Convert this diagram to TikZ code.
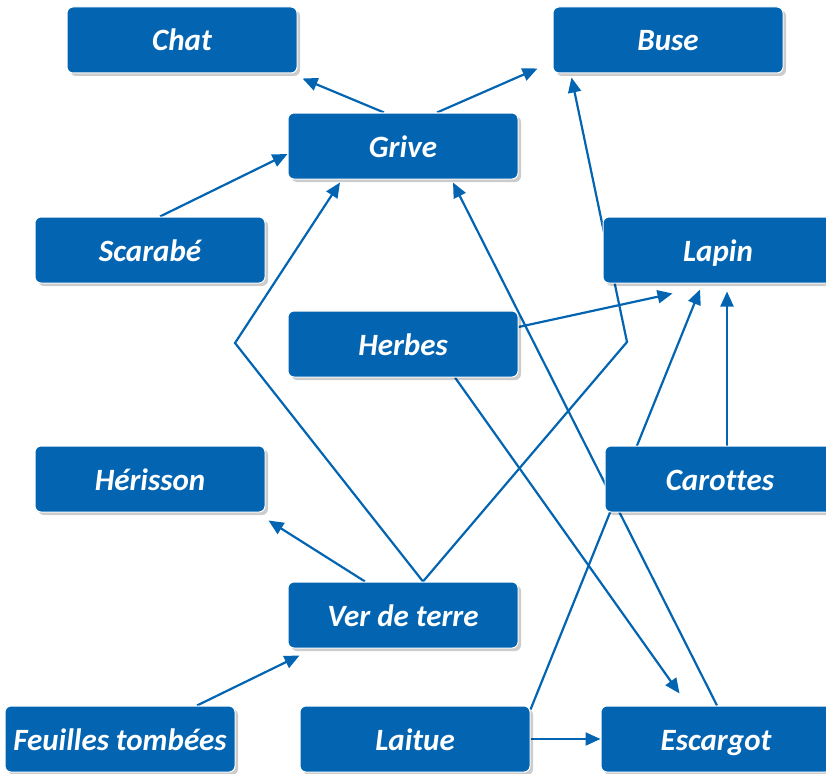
\documentclass[tikz,border=0pt]{standalone}
\usepackage{fontspec}
\setmainfont[Ligatures=NoCommon]{Carlito}
\usetikzlibrary{arrows.meta,shadows,calc}
\definecolor{boxblue}{RGB}{3,101,178}
\pgfdeclarelayer{bg}
\pgfsetlayers{bg,main}
\begin{document}
\begin{tikzpicture}[x=1pt,y=-1pt,
  box/.style={rectangle, rounded corners=6pt, fill=boxblue, draw=white, line width=1pt,
    minimum width=230pt, minimum height=66pt, text=white, inner sep=0pt,
    text height=22pt, text depth=0pt,
    font=\fontsize{31}{36}\selectfont\bfseries\itshape,
    drop shadow={shadow xshift=3pt, shadow yshift=-3pt, opacity=0.2, fill=black}},
  link/.style={draw=boxblue, line width=2.2pt, -{Triangle[length=15pt,width=13pt]}}]
\useasboundingbox (0,0) rectangle (826,773);
\clip (0,0) rectangle (826,773);
% nodes
\node[box] (chat) at (182,40) {Chat};
\node[box] (buse) at (668,40) {Buse};
\node[box] (grive) at (403,146) {Grive};
\node[box] (scarabe) at (150,250) {Scarabé};
\node[box] (lapin) at (718,250) {Lapin};
\node[box] (herbes) at (403,344) {Herbes};
\node[box] (herisson) at (150,479) {Hérisson};
\node[box] (carottes) at (720,479) {Carottes};
\node[box] (ver) at (403,615) {Ver de terre};
\node[box] (feuilles) at (120,739) {Feuilles tombées};
\node[box] (laitue) at (415,739) {Laitue};
\node[box] (escargot) at (716,739) {Escargot};
\coordinate (bendL) at (235,343);
\coordinate (bendR) at (627,342);
% connectors
\begin{pgfonlayer}{bg}
\draw[link] ($(grive.north)+(-19,0)$) -- ($(chat.south east)+(5,5)$);
\draw[link] ($(grive.north)+(34,0)$) -- ($(buse.south west)+(-15,-5)$);
\draw[link] ($(scarabe.north)+(10,0)$) -- ($(grive.west)+(0,8)$);
\draw[link] ($(ver.north)+(20,0)$) -- (bendL) -- ($(grive.south)+(-63,3)$);
\draw[link] ($(ver.north)+(20,0)$) -- (bendR) -- ($(buse.south west)+(19,4)$);
\draw[link] ($(ver.north)+(-38,0)$) -- ($(herisson.south east)+(3,8)$);
\draw[link] ($(feuilles.north)+(77,0)$) -- ($(ver.south west)+(12,7)$);
\draw[link] ($(herbes.east)+(0,-17)$) -- ($(lapin.south west)+(70,10)$);
\draw[link] ($(herbes.south)+(52,0)$) -- ($(escargot.north west)+(79,-12)$);
\draw[link] ($(escargot.north)+(1,0)$) -- ($(grive.south)+(50,3)$);
\draw[link] ($(carottes.north)+(7,0)$) -- ($(lapin.south)+(9,8)$);
\draw[link] ($(laitue.north east)+(0,4)$) -- ($(lapin.south)+(-18,6)$);
\draw[link] (laitue.east) -- (escargot.west);
\end{pgfonlayer}
\end{tikzpicture}
\end{document}
